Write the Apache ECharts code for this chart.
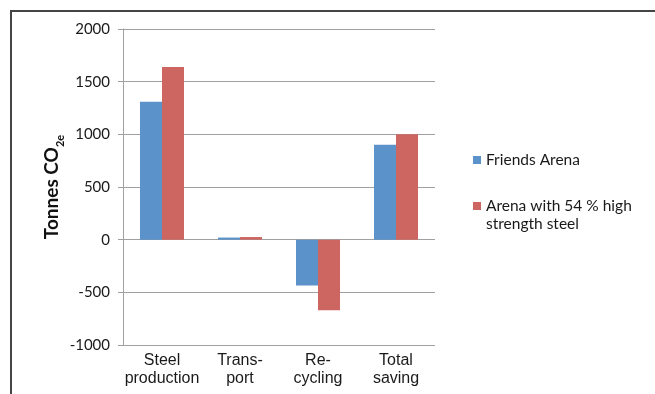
<!DOCTYPE html>
<html>
<head>
<meta charset="utf-8">
<script src="https://cdn.jsdelivr.net/npm/echarts@6/dist/echarts.min.js"></script>
<style>
  html, body { margin: 0; padding: 0; background: #fff; }
  #main { width: 655px; height: 394px; }
</style>
</head>
<body>
<div id="main"></div>
<script>
// chart data
var categories = ['Steel\nproduction', 'Trans-\nport', 'Re-\ncycling', 'Total\nsaving']
var seriesNames = ['Friends Arena', 'Arena with 54 % high strength steel']
var friendsArena = [1310, 20, -435, 900]
var highStrength = [1640, 25, -670, 1000]
var yTicks = { min: -1000, max: 2000, step: 500 }

var chart = echarts.init(document.getElementById('main'))

chart.setOption({
  animation: false,
  color: ['#5b92c9', '#cd6661'],
  grid: {
    left: 123,
    right: 220,
    top: 29,
    bottom: 49
  },
  graphic: [{
    type: 'rect',
    shape: { x: 11, y: 11, width: 700, height: 500 },
    style: { fill: 'none', stroke: '#454545', lineWidth: 2 },
    silent: true
  }],
  legend: {
    orient: 'vertical',
    left: 468,
    top: 147,
    itemWidth: 8,
    itemHeight: 8,
    itemGap: 12,
    icon: 'rect',
    textStyle: {
      rich: {
        t: { fontFamily: 'Lato', fontSize: 15.5, lineHeight: 18, color: '#1a1a1a' }
      }
    },
    // empty first line keeps the marker level with the first text line
    formatter: function(name) {
      if (name === seriesNames[1]) {
        return '{t| }\n{t|Arena with 54 % high}\n{t|strength steel}'
      }
      return '{t|' + name + '}'
    },
    data: seriesNames
  },
  xAxis: {
    type: 'category',
    data: categories,
    axisLine: { show: false, onZero: false },
    axisTick: { show: false },
    axisLabel: {
      interval: 0,
      margin: 7,
      fontFamily: 'Liberation Sans',
      fontSize: 16,
      lineHeight: 18,
      color: '#1a1a1a'
    }
  },
  yAxis: {
    type: 'value',
    min: yTicks.min,
    max: yTicks.max,
    interval: yTicks.step,
    name: '{a|Tonnes CO}{s|2e}',
    nameLocation: 'middle',
    nameGap: 60,
    nameTextStyle: {
      rich: {
        a: { fontFamily: 'Lato', fontWeight: 'bold', fontSize: 19, color: '#111', lineHeight: 22, verticalAlign: 'bottom' },
        s: { fontFamily: 'Lato', fontWeight: 'bold', fontSize: 11, color: '#111', lineHeight: 14, verticalAlign: 'bottom', padding: [0, 0, -4, 0] }
      }
    },
    axisLine: { show: true, lineStyle: { color: '#a0a0a0', width: 1 } },
    axisTick: { show: true, length: 5, lineStyle: { color: '#a0a0a0' } },
    splitLine: { lineStyle: { color: '#a0a0a0', width: 1 } },
    axisLabel: {
      margin: 13,
      fontFamily: 'Lato',
      fontSize: 15,
      color: '#1a1a1a',
      formatter: function(v) { return String(v) }
    }
  },
  series: [
    {
      name: seriesNames[0],
      type: 'bar',
      barWidth: 22,
      barGap: '0%',
      data: friendsArena
    },
    {
      name: seriesNames[1],
      type: 'bar',
      barWidth: 22,
      barGap: '0%',
      data: highStrength
    }
  ]
})
</script>
</body>
</html>
